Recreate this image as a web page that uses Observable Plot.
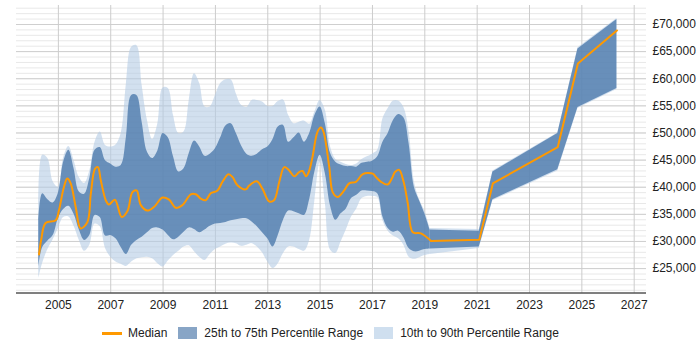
<!DOCTYPE html>
<html>
<head>
<meta charset="utf-8">
<script src="https://cdn.jsdelivr.net/npm/d3@7"></script>
<script src="https://cdn.jsdelivr.net/npm/@observablehq/plot@0.6"></script>
<style>
  body { margin: 0; background: #fff; font-family: "Liberation Sans", Arial, sans-serif; }
  #chart { position: relative; width: 700px; height: 350px; overflow: hidden; }
  #chart svg { position: absolute; left: 0; top: 0; }
  .legend { position: absolute; top: 326px; left: 102px; display: flex; align-items: center;
            font-size: 12px; color: #222; white-space: nowrap; line-height: 14px; }
  .legend .item { display: flex; align-items: center; margin-right: 11px; }
  .legend .line { width: 20px; height: 3px; background: #ff9900; margin-right: 6px; }
  .legend .box { width: 19px; height: 12px; margin-right: 7px; }
</style>
</head>
<body>
<div id="chart"></div>
<script>
// Sample dates (decimal years) for the percentile bands
const years = [
  2004.25, 2004.4, 2004.6, 2004.8, 2005.0, 2005.2, 2005.4, 2005.6, 2005.8, 2006.0,
  2006.2, 2006.4, 2006.6, 2006.8, 2007.0, 2007.2, 2007.4, 2007.6, 2007.8, 2008.0,
  2008.2, 2008.4, 2008.6, 2008.8, 2009.0, 2009.2, 2009.4, 2009.6, 2009.8, 2010.0,
  2010.2, 2010.4, 2010.6, 2010.8, 2011.0, 2011.2, 2011.4, 2011.6, 2011.8, 2012.0,
  2012.2, 2012.4, 2012.6, 2012.8, 2013.0, 2013.2, 2013.4, 2013.6, 2013.8, 2014.0,
  2014.2, 2014.4, 2014.6, 2014.8, 2015.0, 2015.2, 2015.4, 2015.6, 2015.8, 2016.0,
  2016.2, 2016.4, 2016.6, 2016.8, 2017.0, 2017.2, 2017.4, 2017.6, 2017.8, 2018.0,
  2018.2, 2018.4, 2018.6, 2018.8, 2019.0, 2019.2, 2021.08, 2021.6, 2024.08, 2024.85, 2026.34
];

// 90th percentile salary (£)
const p90 = [
  36400, 45900, 45300, 41000, 40000, 45400, 47500, 44900, 41800, 40700,
  43000, 48300, 50200, 47700, 47400, 47800, 49900, 59100, 65800, 66100,
  58800, 52400, 48800, 51700, 58300, 58200, 53200, 49900, 50200, 56000,
  60900, 59100, 54800, 54800, 56900, 59100, 59800, 59800, 57200, 55100,
  54700, 56000, 56000, 55700, 54900, 54900, 55800, 56100, 53200, 51700,
  52000, 52200, 51600, 53900, 56000, 54200, 47400, 45100, 44600, 44200,
  44000, 44300, 45100, 45600, 46100, 46800, 52600, 54500, 55900, 55900,
  54700, 50200, 41000, 37700, 35600, 32400, 32200, 43000, 50000, 65700, 71100
];

// 75th percentile salary (£)
const p75 = [
  33900, 38800, 37700, 37100, 38900, 44600, 46800, 43400, 39100, 38700,
  41600, 46800, 47300, 44900, 44300, 43700, 44000, 49200, 56900, 56900,
  52000, 46500, 45300, 46700, 49900, 49100, 45600, 42800, 43400, 46200,
  48500, 47400, 45700, 46100, 47100, 49100, 51300, 51700, 49900, 47600,
  46100, 45700, 46100, 46900, 47400, 48800, 51100, 51400, 48300, 49100,
  50000, 48300, 49900, 53200, 54800, 51700, 46200, 44600, 44100, 43800,
  43800, 43700, 44400, 44600, 44800, 45600, 48300, 49900, 52300, 53400,
  52800, 48000, 40000, 37500, 35100, 32100, 31900, 42800, 49900, 65500, 70900
];

// 25th percentile salary (£)
const p25 = [
  25300, 28900, 30100, 31100, 34200, 35900, 36500, 35000, 32100, 30200,
  31100, 34800, 34400, 31000, 31100, 30500, 28900, 27600, 29300, 30200,
  30800, 31600, 32400, 32500, 32100, 31100, 30300, 30800, 31700, 32500,
  32200, 31600, 32100, 32800, 33200, 33300, 33500, 33800, 34000, 34200,
  34200, 33600, 32700, 31600, 30500, 29000, 31100, 33900, 35600, 35500,
  35100, 34800, 37700, 42800, 45900, 42500, 36500, 33900, 35100, 36000,
  37900, 38500, 39300, 39300, 39200, 38800, 34500, 32400, 31700, 31900,
  30700, 28700, 28100, 28200, 28500, 28600, 29000, 37700, 43200, 54700, 58200
];

// 10th percentile salary (£)
const p10 = [
  23200, 26000, 28500, 30300, 32400, 34400, 34500, 32800, 30200, 28200,
  29300, 33200, 32700, 28700, 27100, 26200, 25800, 25400, 26200, 26800,
  27000, 27100, 26800, 25900, 25300, 26400, 27400, 28200, 29000, 29200,
  28100, 27100, 26500, 27600, 28500, 29000, 29500, 29700, 29600, 29100,
  29300, 29600, 29000, 27900, 26200, 25000, 25900, 27800, 29000, 29000,
  28500, 28200, 30200, 37500, 44500, 37000, 28400, 27800, 29900, 32100,
  34500, 36000, 37900, 38300, 38300, 38100, 33800, 31900, 31000, 30500,
  29300, 27100, 26700, 27000, 27400, 27600, 28700, 37500, 43000, 54500, 58000
];

// Median salary (£) and its dates
const medianYears = [
  2004.26, 2004.35, 2004.51, 2004.90, 2005.02, 2005.21, 2005.34, 2005.47, 2005.66, 2005.85,
  2006.11, 2006.24, 2006.40, 2006.51, 2006.62, 2006.81, 2006.93, 2007.16, 2007.42, 2007.64,
  2007.83, 2007.99, 2008.15, 2008.40, 2008.66, 2008.98, 2009.23, 2009.49, 2009.74, 2010.06,
  2010.25, 2010.44, 2010.63, 2010.82, 2011.08, 2011.27, 2011.50, 2011.65, 2011.85, 2012.16,
  2012.29, 2012.58, 2012.80, 2013.05, 2013.24, 2013.44, 2013.63, 2013.82, 2014.01, 2014.20,
  2014.33, 2014.46, 2014.58, 2014.71, 2014.90, 2015.03, 2015.13, 2015.35, 2015.48, 2015.67,
  2015.92, 2016.11, 2016.37, 2016.63, 2017.01, 2017.13, 2017.33, 2017.58, 2017.77, 2017.86,
  2018.02, 2018.19, 2018.35, 2018.54, 2018.85, 2019.24, 2021.08, 2021.60, 2024.08, 2024.85, 2026.34
];
const medianValues = [
  27600, 30500, 33400, 33900, 35700, 40000, 41600, 40700, 36400, 32400,
  33600, 38800, 43400, 43700, 41300, 37600, 36800, 37700, 34500, 35600,
  39100, 39400, 36700, 35700, 36400, 38100, 37700, 36200, 36700, 38700,
  38700, 37900, 37600, 38900, 39400, 41000, 42400, 41900, 40300, 39600,
  40300, 41100, 39700, 37400, 37600, 41000, 43700, 43100, 42000, 42800,
  43000, 42000, 43000, 45600, 50200, 51000, 50200, 43700, 39100, 38200,
  39400, 40700, 41000, 42400, 42500, 41900, 41000, 40500, 41900, 42800,
  43200, 41000, 37000, 31700, 31500, 30100, 30300, 40700, 47400, 62800, 68900
];

// Axis ticks
const yearTicks = [2005, 2007, 2009, 2011, 2013, 2015, 2017, 2019, 2021, 2023, 2025, 2027];
const salaryTicks = [25000, 30000, 35000, 40000, 45000, 50000, 55000, 60000, 65000, 70000];
const minorSalaryTicks = d3.range(21000, 73001, 1000);

// Rows for the band marks; the monthly part is smoothed, the sparse tail is straight
const rows = years.map((year, i) => ({ year, p10: p10[i], p25: p25[i], p75: p75[i], p90: p90[i] }));
const denseRows = rows.filter(d => d.year <= 2019.2001);
const sparseRows = rows.filter(d => d.year >= 2019.1999);

const median = medianYears.map((year, i) => ({ year, value: medianValues[i] }));
const denseMedian = median.filter(d => d.year <= 2019.2401);
const sparseMedian = median.filter(d => d.year >= 2019.2399);

const lightFill = "#b4cce4", lightOpacity = 0.6;
const darkFill = "#4e7bac", darkOpacity = 0.8;
const orange = "#ff9900";
const smooth = "catmull-rom";
const fmt = d3.format(",");

const chart = Plot.plot({
  width: 700,
  height: 318,
  marginLeft: 16,
  marginRight: 54,
  marginTop: 5,
  marginBottom: 25.5,
  style: { fontFamily: "'Liberation Sans', Arial, sans-serif", fontSize: "12px", color: "#222", background: "#fff" },
  x: { type: "linear", domain: [2003.4, 2027.47] },
  y: { domain: [20500, 73500] },
  marks: [
    Plot.ruleY(minorSalaryTicks, { stroke: "#e8e8e8", strokeWidth: 1 }),
    Plot.ruleY(salaryTicks, { stroke: "#cfcfcf", strokeWidth: 1 }),
    Plot.ruleX(yearTicks, { stroke: "#cccccc", strokeWidth: 1 }),

    Plot.areaY(denseRows, { x: "year", y1: "p10", y2: "p90", fill: lightFill, fillOpacity: lightOpacity, curve: smooth }),
    Plot.areaY(sparseRows, { x: "year", y1: "p10", y2: "p90", fill: lightFill, fillOpacity: lightOpacity }),
    Plot.areaY(denseRows, { x: "year", y1: "p25", y2: "p75", fill: darkFill, fillOpacity: darkOpacity, curve: smooth }),
    Plot.areaY(sparseRows, { x: "year", y1: "p25", y2: "p75", fill: darkFill, fillOpacity: darkOpacity }),

    Plot.lineY(denseMedian, { x: "year", y: "value", stroke: orange, strokeWidth: 2, curve: smooth }),
    Plot.lineY(sparseMedian, { x: "year", y: "value", stroke: orange, strokeWidth: 2 }),

    Plot.ruleY([20500], { stroke: "#000", strokeWidth: 1 }),
    Plot.axisX({ ticks: yearTicks, tickSize: 0, tickPadding: 7, tickFormat: d => String(d), label: null, fill: "#222" }),
    Plot.axisY({ anchor: "right", ticks: salaryTicks, tickSize: 0, tickPadding: 6, tickFormat: d => "£" + fmt(d), label: null, fill: "#222" })
  ]
});

const host = document.getElementById("chart");
host.appendChild(chart);

const legend = document.createElement("div");
legend.className = "legend";
legend.innerHTML =
  '<div class="item"><div class="line"></div><span>Median</span></div>' +
  '<div class="item"><div class="box" style="background:#88a5c6"></div><span>25th to 75th Percentile Range</span></div>' +
  '<div class="item"><div class="box" style="background:#cfdfef"></div><span>10th to 90th Percentile Range</span></div>';
host.appendChild(legend);
</script>
</body>
</html>
